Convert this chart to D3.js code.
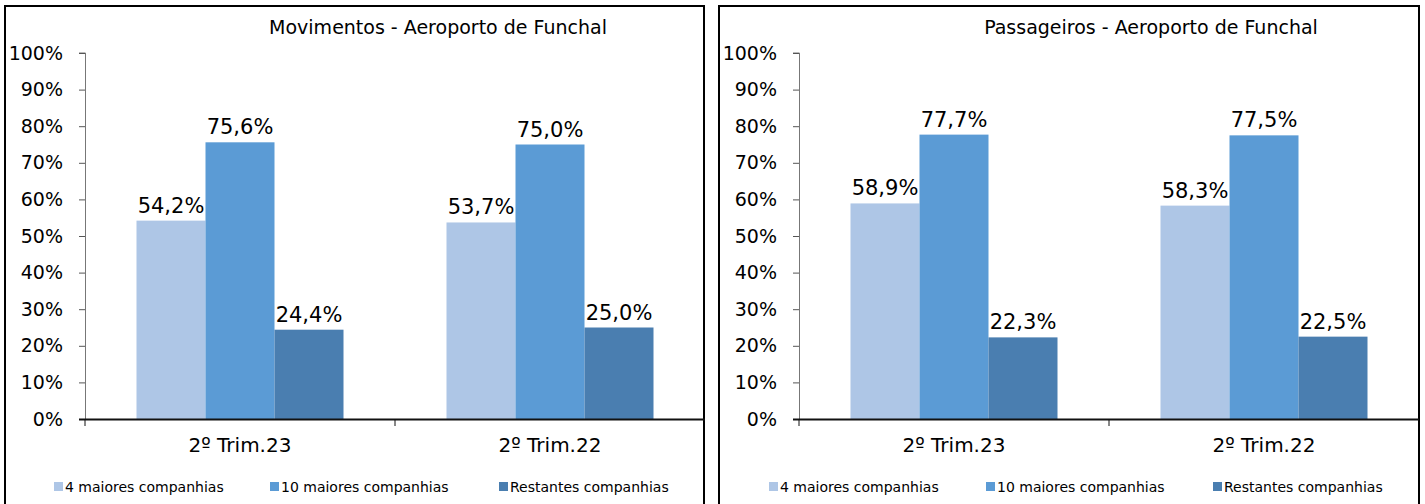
<!DOCTYPE html>
<html>
<head>
<meta charset="utf-8">
<script src="https://cdn.jsdelivr.net/npm/d3@7"></script>
<style>
  body { margin: 0; background: #fff; }
  text { font-family: "DejaVu Sans", Verdana, sans-serif; fill: #000; }
</style>
</head>
<body>
<script>
// data
var categories = ["2º Trim.23", "2º Trim.22"];
var series = ["4 maiores companhias", "10 maiores companhias", "Restantes companhias"];
var colors = ["#aec6e6", "#5b9bd5", "#4a7eb0"];
var titles = ["Movimentos - Aeroporto de Funchal", "Passageiros - Aeroporto de Funchal"];
var movimentos = [[54.2, 75.6, 24.4], [53.7, 75.0, 25.0]];
var passageiros = [[58.9, 77.7, 22.3], [58.3, 77.5, 22.5]];
var yTicks = [0, 10, 20, 30, 40, 50, 60, 70, 80, 90, 100];

var svg = d3.select("body").append("svg")
  .attr("width", 1425)
  .attr("height", 504);

// one panel per chart
var panels = [
  {left: 5, right: 704, axisX: 85, title: titles[0], values: movimentos, titleX: 438, legendX: [54, 270, 499]},
  {left: 719, right: 1419, axisX: 799, title: titles[1], values: passageiros, titleX: 1151, legendX: [769, 986, 1213]}
];

var yTop = 53, yBottom = 419;
var y = d3.scaleLinear().domain([0, 100]).range([yBottom, yTop]);

panels.forEach(function(p) {
  var g = svg.append("g");

  // border
  g.append("rect")
    .attr("x", p.left)
    .attr("y", 6)
    .attr("width", p.right - p.left)
    .attr("height", 510)
    .attr("fill", "none")
    .attr("stroke", "#000")
    .attr("stroke-width", 2);

  var x0 = d3.scaleBand()
    .domain(categories)
    .range([p.axisX, p.axisX + 620]);

  var x1 = d3.scaleBand()
    .domain(series)
    .range([0, x0.bandwidth()])
    .paddingOuter(0.5 * 103 / 69);

  // title
  g.append("text")
    .attr("x", p.titleX)
    .attr("y", 34)
    .attr("text-anchor", "middle")
    .style("font-size", "19px")
    .text(p.title);

  // y axis
  var yAxis = g.append("g")
    .attr("transform", "translate(" + p.axisX + ",0)")
    .call(d3.axisLeft(y).tickValues(yTicks).tickSize(6).tickPadding(16)
      .tickFormat(function(d) { return d + "%"; }));
  yAxis.select(".domain").attr("stroke", "#777").attr("d", "M-6," + yTop + "H0.5V" + yBottom);
  yAxis.selectAll(".tick line").attr("stroke", "#555");
  yAxis.selectAll(".tick text")
    .style("font-size", "19px")
    .style("font-family", "'DejaVu Sans', Verdana, sans-serif");

  // bars
  p.values.forEach(function(vals, ci) {
    var cat = categories[ci];
    vals.forEach(function(v, si) {
      var bx = x0(cat) + x1(series[si]);
      g.append("rect")
        .attr("x", bx)
        .attr("y", y(v))
        .attr("width", x1.bandwidth())
        .attr("height", y(0) - y(v))
        .attr("fill", colors[si]);
      g.append("text")
        .attr("x", bx + x1.bandwidth() / 2)
        .attr("y", y(v) - 8)
        .attr("text-anchor", "middle")
        .style("font-size", "21px")
        .text(d3.format(".1f")(v).replace(".", ",") + "%");
    });
  });

  // x axis
  var xAxis = g.append("g")
    .attr("transform", "translate(0," + yBottom + ")");
  xAxis.append("line")
    .attr("x1", p.axisX - 6).attr("x2", p.axisX + 620)
    .attr("y1", 0.5).attr("y2", 0.5)
    .attr("stroke", "#111").attr("stroke-width", 2);
  [0, 1].forEach(function(i) {
    xAxis.append("line")
      .attr("x1", p.axisX + i * x0.step()).attr("x2", p.axisX + i * x0.step())
      .attr("y1", 0).attr("y2", 7)
      .attr("stroke", "#111");
  });
  categories.forEach(function(c) {
    xAxis.append("text")
      .attr("x", x0(c) + x0.bandwidth() / 2)
      .attr("y", 33)
      .attr("text-anchor", "middle")
      .style("font-size", "20px")
      .text(c);
  });

  // legend
  series.forEach(function(s, si) {
    var lx = p.legendX[si];
    g.append("rect")
      .attr("x", lx).attr("y", 482)
      .attr("width", 9).attr("height", 9)
      .attr("fill", colors[si]);
    g.append("text")
      .attr("x", lx + 11).attr("y", 492)
      .style("font-size", "14px")
      .text(s);
  });
});
</script>
</body>
</html>
